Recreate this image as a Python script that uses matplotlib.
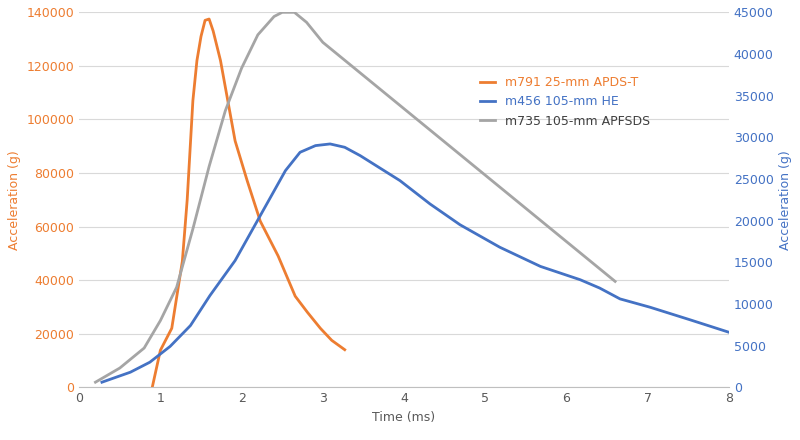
import matplotlib
matplotlib.use("Agg")
import matplotlib.pyplot as plt

t_orange = [0.9,1.0,1.14,1.27,1.33,1.4,1.45,1.5,1.55,1.6,1.65,1.74,1.83,1.92,2.07,2.23,2.45,2.66,2.81,2.97,3.11,3.27]
a_orange = [0,13800,22000,47000,70000,107000,122000,131000,137000,137500,133000,122000,107000,92000,77000,62000,49000,34000,28000,22000,17500,14000]

t_blue = [0.28,0.63,0.87,1.12,1.37,1.61,1.92,2.23,2.54,2.72,2.91,3.09,3.27,3.46,3.95,4.32,4.69,5.18,5.68,6.17,6.41,6.66,7.03,7.52,8.0]
a_blue = [600,1800,3000,4900,7400,11000,15200,20600,26000,28200,29000,29200,28800,27800,24800,22000,19500,16800,14500,12900,11900,10600,9600,8100,6600]

t_gray = [0.2,0.5,0.8,1.0,1.2,1.4,1.6,1.8,2.0,2.2,2.4,2.5,2.65,2.8,3.0,6.6]
a_gray = [600,2300,4700,8000,12000,19000,26500,33200,38300,42300,44500,45000,45000,43800,41400,12700]

ORANGE, BLUE, GRAY = "#ED7D31", "#4472C4", "#A5A5A5"
fig = plt.figure(figsize=(8, 4.4), dpi=100)
ax = fig.add_axes([0.099, 0.12, 0.812, 0.852])
ax2 = ax.twinx()
l1, = ax.plot(t_orange, a_orange, color=ORANGE, lw=2, label="m791 25-mm APDS-T")
l2, = ax2.plot(t_blue, a_blue, color=BLUE, lw=2, label="m456 105-mm HE")
l3, = ax2.plot(t_gray, a_gray, color=GRAY, lw=2, label="m735 105-mm APFSDS")
ax.set_xlim(0, 8); ax.set_ylim(0, 140000); ax2.set_ylim(0, 45000)
ax.set_yticks(range(0, 140001, 20000)); ax2.set_yticks(range(0, 45001, 5000))
ax.grid(axis="y", color="#D9D9D9", lw=0.8); ax.set_axisbelow(True)
for a in (ax, ax2):
    for s in a.spines.values(): s.set_visible(False)
    a.tick_params(length=0, labelsize=9)
ax.spines["bottom"].set_visible(True); ax.spines["bottom"].set_color("#BFBFBF")
ax.tick_params(axis="x", colors="#595959")
ax.tick_params(axis="y", colors=ORANGE); ax2.tick_params(axis="y", colors=BLUE)
ax.set_xlabel("Time (ms)", color="#595959", fontsize=9)
ax.set_ylabel("Acceleration (g)", color=ORANGE, fontsize=9)
ax2.set_ylabel("Acceleration (g)", color=BLUE, fontsize=9)
leg = ax.legend(handles=[l1, l2, l3], loc="upper left", bbox_to_anchor=(0.6, 0.86), frameon=False, fontsize=9, handlelength=1.2)
for txt, c in zip(leg.get_texts(), [ORANGE, BLUE, "#404040"]): txt.set_color(c)
fig.savefig("out.png")
